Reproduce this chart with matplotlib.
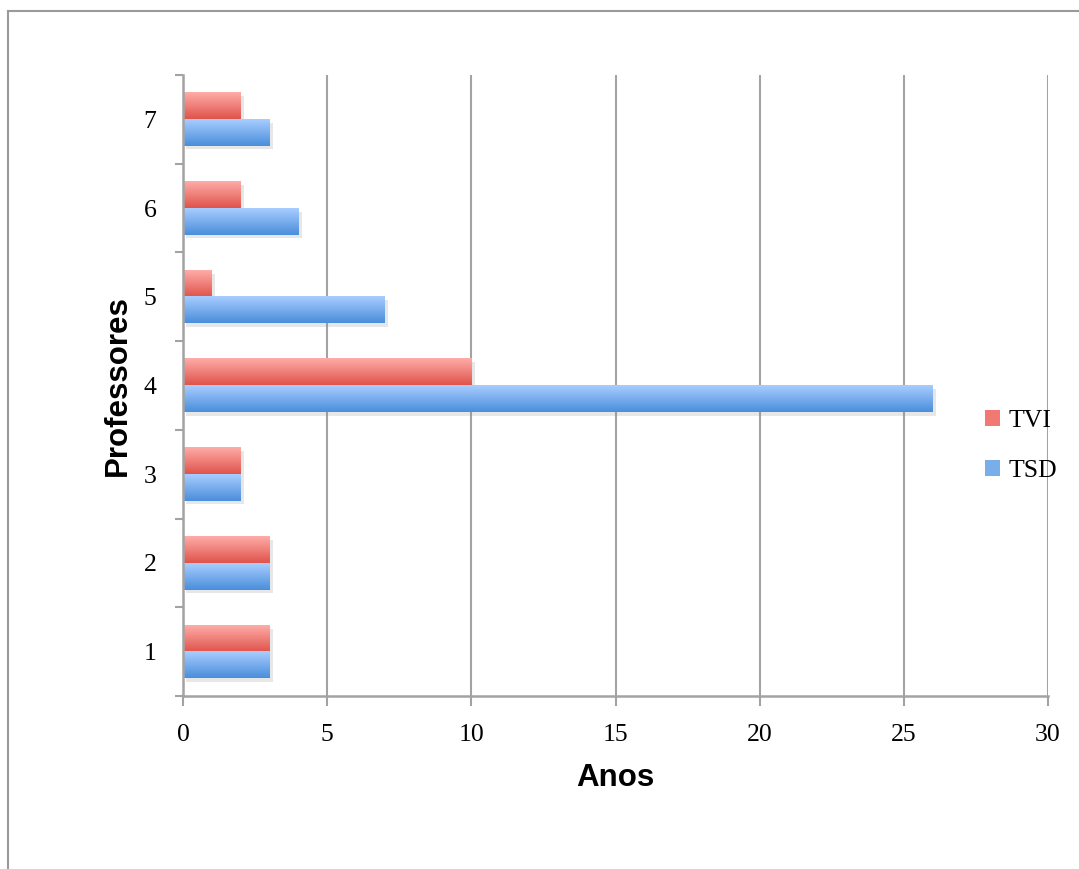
import numpy as np
import matplotlib.pyplot as plt
import matplotlib.patheffects as pe
from matplotlib.colors import LinearSegmentedColormap
from matplotlib.patches import Patch
from matplotlib.lines import Line2D

professores = [1, 2, 3, 4, 5, 6, 7]
tvi = [3, 3, 2, 10, 1, 2, 2]
tsd = [3, 3, 2, 26, 7, 4, 3]
xticks = [0, 5, 10, 15, 20, 25, 30]

serif = 'Liberation Serif'
sans = 'Liberation Sans'
grey = '#a3a3a3'

fig = plt.figure(figsize=(10.79, 8.69), dpi=100)
ax = fig.add_axes([183/1079, 1-696/869, 865/1079, 621/869])

# outer chart frame (only top and left visible)
fig.add_artist(Line2D([8/1079, 8/1079], [-0.1, 1-11/869], color='#9a9a9a', lw=1.5))
fig.add_artist(Line2D([8/1079, 1.1], [1-11/869, 1-11/869], color='#9a9a9a', lw=1.5))

y = np.array(professores)
h = 0.3
red_map = LinearSegmentedColormap.from_list('r', ['#df544c', '#ffaca8'])
blue_map = LinearSegmentedColormap.from_list('b', ['#4a8edb', '#a8cdff'])
grad = np.linspace(0, 1, 64).reshape(-1, 1)

shadow = [pe.SimplePatchShadow(offset=(2.5, -2.5), shadow_rgbFace='#888888', alpha=0.2), pe.Normal()]
bars_tvi = ax.barh(y + h/2, tvi, height=h, color='#f07a73', lw=0, zorder=3, path_effects=shadow)
bars_tsd = ax.barh(y - h/2, tsd, height=h, color='#7aaeea', lw=0, zorder=3, path_effects=shadow)

for bars, cm in [(bars_tvi, red_map), (bars_tsd, blue_map)]:
    for b in bars:
        x0, y0 = b.get_x(), b.get_y()
        im = ax.imshow(grad, cmap=cm, aspect='auto', origin='lower', interpolation='bilinear',
                       extent=[x0, x0 + b.get_width(), y0, y0 + b.get_height()], zorder=4)

ax.set_xlim(0, 30)
ax.set_ylim(0.5, 7.5)
ax.set_xticks(xticks)
ax.set_xticklabels([str(t) for t in xticks], fontfamily=serif, fontsize=18.5)
ax.set_yticks(np.arange(0.5, 8, 1))
ax.set_yticklabels([])
ax.set_yticks(y, minor=True)
ax.set_yticklabels([str(p) for p in professores], minor=True, fontfamily=serif, fontsize=18.5)
ax.tick_params(axis='x', length=7, width=1.5, color=grey, pad=13)
ax.tick_params(axis='y', which='major', length=6, width=1.5, color=grey)
ax.tick_params(axis='y', which='minor', length=0, pad=19)

ax.grid(axis='x', color=grey, lw=1.5, zorder=0)
ax.set_axisbelow(True)
for s in ['top', 'right']:
    ax.spines[s].set_visible(False)
for s in ['left', 'bottom']:
    ax.spines[s].set_color(grey)
    ax.spines[s].set_linewidth(1.8)
    ax.spines[s].set_zorder(5)

ax.set_xlabel('Anos', fontfamily=sans, fontweight='bold', fontsize=22.5)
ax.xaxis.set_label_coords(0.5, -0.108)
ax.set_ylabel('Professores', fontfamily=sans, fontweight='bold', fontsize=22.5)
ax.yaxis.set_label_coords(-0.058, 0.5)

handles = [Patch(facecolor='#f07a73', label='TVI'), Patch(facecolor='#7aaeea', label='TSD')]
fig.legend(handles=handles, loc='center left', bbox_to_anchor=(985/1079, 1-446/869),
           frameon=False, borderpad=0, borderaxespad=0, handlelength=0.6, handleheight=0.6,
           handletextpad=0.3, labelspacing=1.1, prop={'family': serif, 'size': 18.5})

fig.savefig('out.png', dpi=100)
